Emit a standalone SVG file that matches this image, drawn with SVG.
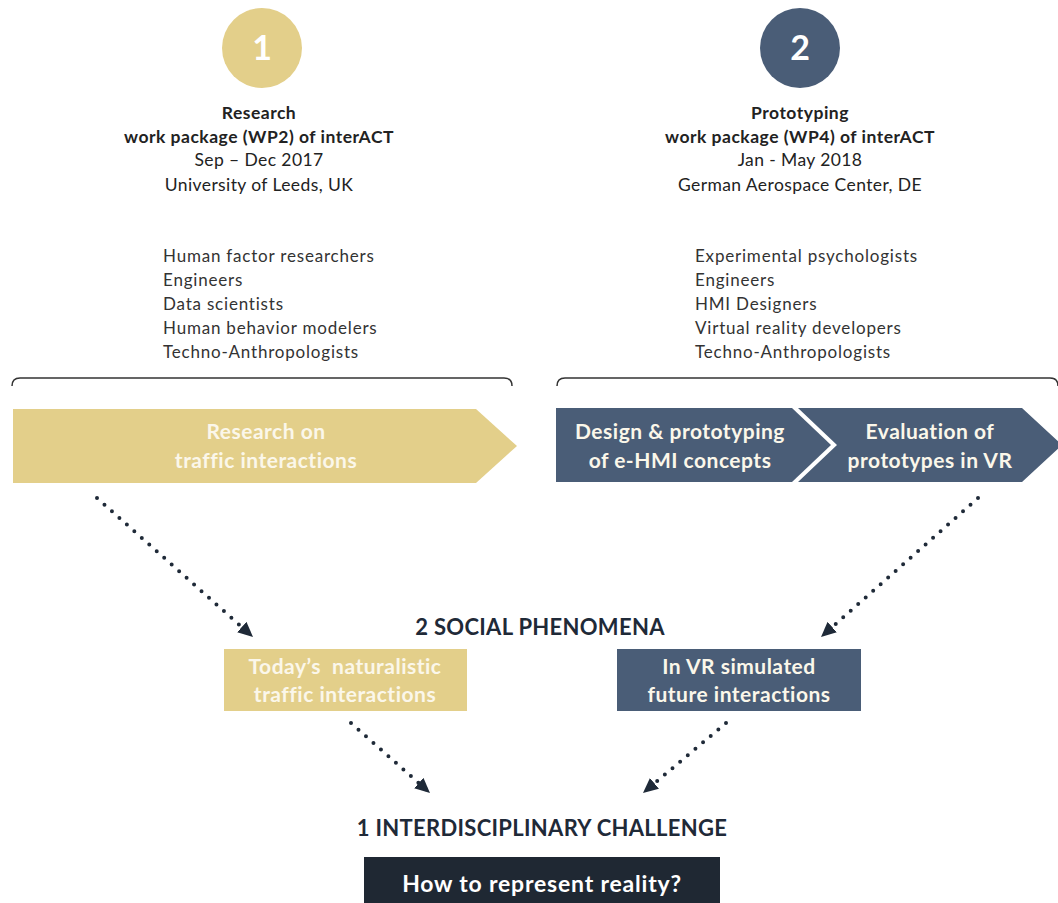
<svg xmlns="http://www.w3.org/2000/svg" width="1058" height="903" viewBox="0 0 1058 903">
  <style>
    text { font-family: Lato, "Liberation Sans", sans-serif; }
    .num { font-size: 34px; font-weight: 700; fill: #ffffff; text-anchor: middle; }
    .head { font-size: 17.5px; font-weight: 700; fill: #222222; text-anchor: middle; letter-spacing: 0.5px; }
    .sub { font-size: 17.5px; fill: #222222; text-anchor: middle; letter-spacing: 0.4px; }
    .list { font-size: 17px; fill: #333333; letter-spacing: 0.8px; }
    .lbl { font-size: 21px; font-weight: 700; fill: #fbf7ea; text-anchor: middle; letter-spacing: 0.5px; }
    .title { font-size: 22px; font-weight: 700; fill: #1f2a38; text-anchor: middle; letter-spacing: 0.3px; }
    .gold { fill: #e3cf8a; }
    .slate { fill: #4a5d77; }
    .brace { fill: none; stroke: #333333; stroke-width: 1.5; }
    .dots { fill: none; stroke: #1f2a38; stroke-width: 4; stroke-linecap: round; stroke-dasharray: 0 10; }
  </style>
  <defs>
    <marker id="head" viewBox="0 0 15 14" refX="15" refY="7" markerWidth="15" markerHeight="14" markerUnits="userSpaceOnUse" orient="auto">
      <path d="M0,0 L15,7 L0,14 z" fill="#1f2a38"/>
    </marker>
  </defs>

  <!-- Work package 1 -->
  <g id="wp2">
    <circle class="gold" cx="262" cy="48" r="40"/>
    <text class="num" x="262" y="60">1</text>
    <text class="head" x="259" y="119">Research</text>
    <text class="head" x="259" y="143">work package (WP2) of interACT</text>
    <text class="sub" x="259" y="166">Sep – Dec 2017</text>
    <text class="sub" x="259" y="191">University of Leeds, UK</text>
  </g>
  <g id="wp2-team">
    <text class="list" x="163" y="262">Human factor researchers</text>
    <text class="list" x="163" y="286">Engineers</text>
    <text class="list" x="163" y="310">Data scientists</text>
    <text class="list" x="163" y="334">Human behavior modelers</text>
    <text class="list" x="163" y="358">Techno-Anthropologists</text>
    <path class="brace" d="M12,386 Q12,378 20,378 L504,378 Q512,378 512,386"/>
  </g>

  <!-- Work package 2 -->
  <g id="wp4">
    <circle class="slate" cx="800" cy="48" r="40"/>
    <text class="num" x="800" y="60">2</text>
    <text class="head" x="800" y="119">Prototyping</text>
    <text class="head" x="800" y="143">work package (WP4) of interACT</text>
    <text class="sub" x="800" y="166">Jan - May 2018</text>
    <text class="sub" x="800" y="191">German Aerospace Center, DE</text>
  </g>
  <g id="wp4-team">
    <text class="list" x="695" y="262">Experimental psychologists</text>
    <text class="list" x="695" y="286">Engineers</text>
    <text class="list" x="695" y="310">HMI Designers</text>
    <text class="list" x="695" y="334">Virtual reality developers</text>
    <text class="list" x="695" y="358">Techno-Anthropologists</text>
    <path class="brace" d="M557,386 Q557,378 565,378 L1050,378 Q1058,378 1058,386"/>
  </g>

  <!-- Process chevrons -->
  <g id="research-step">
    <polygon class="gold" points="13,409 476,409 517,446 476,483 13,483"/>
    <text class="lbl" x="266" y="439">Research on</text>
    <text class="lbl" x="266" y="468">traffic interactions</text>
  </g>
  <g id="design-step">
    <polygon class="slate" points="556,408 792,408 831,445 792,482 556,482"/>
    <text class="lbl" x="680" y="439">Design &amp; prototyping</text>
    <text class="lbl" x="680" y="468">of e-HMI concepts</text>
  </g>
  <g id="evaluation-step">
    <polygon class="slate" points="798,408 1022,408 1062,445 1022,482 798,482 837,445"/>
    <text class="lbl" x="930" y="439">Evaluation of</text>
    <text class="lbl" x="930" y="468">prototypes in VR</text>
  </g>

  <!-- Phenomena -->
  <g id="phenomena-title">
    <text class="title" x="540" y="635">2 SOCIAL PHENOMENA</text>
  </g>
  <g id="naturalistic">
    <rect class="gold" x="224" y="649" width="243" height="62"/>
    <text class="lbl" x="345" y="674" xml:space="preserve">Today’s  naturalistic</text>
    <text class="lbl" x="345" y="702">traffic interactions</text>
  </g>
  <g id="simulated">
    <rect class="slate" x="617" y="649" width="244" height="62"/>
    <text class="lbl" x="739" y="674">In VR simulated</text>
    <text class="lbl" x="739" y="702">future interactions</text>
  </g>

  <!-- Challenge -->
  <g id="challenge-title">
    <text class="title" x="542" y="836">1 INTERDISCIPLINARY CHALLENGE</text>
  </g>
  <g id="challenge">
    <rect x="364" y="857" width="356" height="50" fill="#1f2833"/>
    <text class="lbl" x="542" y="892" style="fill:#ffffff;font-size:23px;letter-spacing:0.8px">How to represent reality?</text>
  </g>

  <!-- Connectors -->
  <g id="connectors">
    <path class="dots" d="M97,498 L253,637" marker-end="url(#head)"/>
    <path class="dots" d="M978,498 L821,637" marker-end="url(#head)"/>
    <path class="dots" d="M351,723 L430,793" marker-end="url(#head)"/>
    <path class="dots" d="M726,723 L643,793" marker-end="url(#head)"/>
  </g>
</svg>
